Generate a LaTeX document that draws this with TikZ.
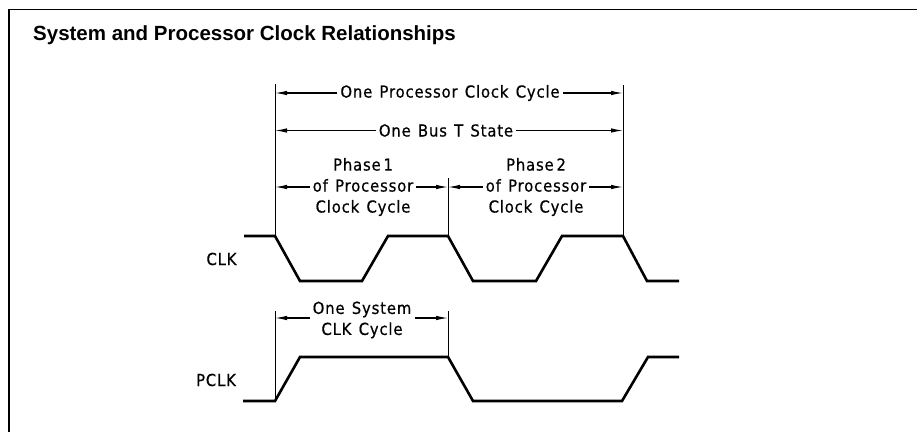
\documentclass[tikz,border=0pt]{standalone}
\usepackage{fontspec}
\usetikzlibrary{arrows.meta,calc}
\newfontfamily\titlefont{Liberation Sans}
\newfontfamily\dinfont[FakeStretch=0.9,LetterSpace=5,WordSpace=1.3,FakeBold=0.5]{DejaVu Sans}
\begin{document}
\begin{tikzpicture}[x=1pt,y=-1pt,
  wave/.style={line width=2.6pt,line join=miter,line cap=butt},
  extline/.style={line width=1pt},
  dimline/.style={line width=1.1pt,-{Latex[length=12pt,width=4.5pt]}},
  lbl/.style={font={\dinfont\fontsize{16.5}{21}\selectfont},inner sep=3pt,align=center},
  frameline/.style={line width=1.6pt}]
\useasboundingbox (0,0) rectangle (920,432);
% frame
\coordinate (fbl) at (9,432);
\coordinate (ftl) at (9,9.5);
\coordinate (ftr) at (917,9.5);
\draw[frameline] (fbl) -- (ftl) -- (ftr);
\node[anchor=base west,inner sep=0pt,font={\titlefont\bfseries\fontsize{20.5}{24}\selectfont}] (title) at (33,40) {System and Processor Clock Relationships};

% CLK waveform
\coordinate (c0) at (244,236);
\coordinate (c1) at (275,236);
\coordinate (c2) at (300,281);
\coordinate (c3) at (362,281);
\coordinate (c4) at (388,236);
\coordinate (c5) at (448,236);
\coordinate (c6) at (473,281);
\coordinate (c7) at (536,281);
\coordinate (c8) at (562,236);
\coordinate (c9) at (623,236);
\coordinate (c10) at (647,281);
\coordinate (c11) at (679,281);
\draw[wave] (c0) -- (c1) -- (c2) -- (c3) -- (c4) -- (c5) -- (c6) -- (c7) -- (c8) -- (c9) -- (c10) -- (c11);

% PCLK waveform
\coordinate (p0) at (243,401);
\coordinate (p1) at (275,401);
\coordinate (p2) at (300,357);
\coordinate (p3) at (448,357);
\coordinate (p4) at (473,401);
\coordinate (p5) at (622,401);
\coordinate (p6) at (648,357);
\coordinate (p7) at (679,357);
\draw[wave] (p0) -- (p1) -- (p2) -- (p3) -- (p4) -- (p5) -- (p6) -- (p7);

% signal labels
\node[lbl] (clk) at (221.5,259) {CLK};
\node[lbl] (pclk) at (216,380) {PCLK};

% extension lines
\coordinate (v1top) at (275,84);
\coordinate (v2top) at (448,178);
\coordinate (v3top) at (623,85);
\coordinate (w1top) at (275,311);
\coordinate (w2top) at (448,311);
\draw[extline] (v1top) -- (c1);
\draw[extline] (v2top) -- (c5);
\draw[extline] (v3top) -- (c9);
\draw[extline] (w1top) -- (p1);
\draw[extline] (w2top) -- (p3);

% dimension labels
\node[lbl] (cpu) at (450,93) {One Processor Clock Cycle};
\node[lbl] (bus) at (446,130.5) {One Bus T State};
\node[lbl] (ph1) at (363,187) {Phase\,1\\of Processor\\Clock Cycle};
\node[lbl] (ph2) at (536,187) {Phase\,2\\of Processor\\Clock Cycle};
\node[lbl] (sys) at (362,320) {One System\\CLK Cycle};
\coordinate (srow) at (0,318);

% dimension arrows
\draw[dimline] (cpu.west) -- (cpu.west -| v1top);
\draw[dimline] (cpu.east) -- (cpu.east -| v3top);
\draw[dimline] (bus.west) -- (bus.west -| v1top);
\draw[dimline] (bus.east) -- (bus.east -| v3top);
\draw[dimline] (ph1.west) -- (ph1.west -| v1top);
\draw[dimline] (ph1.east) -- (ph1.east -| v2top);
\draw[dimline] (ph2.west) -- (ph2.west -| v2top);
\draw[dimline] (ph2.east) -- (ph2.east -| v3top);
\draw[dimline] (sys.west |- srow) -- (w1top |- srow);
\draw[dimline] (sys.east |- srow) -- (w2top |- srow);
\end{tikzpicture}
\end{document}
